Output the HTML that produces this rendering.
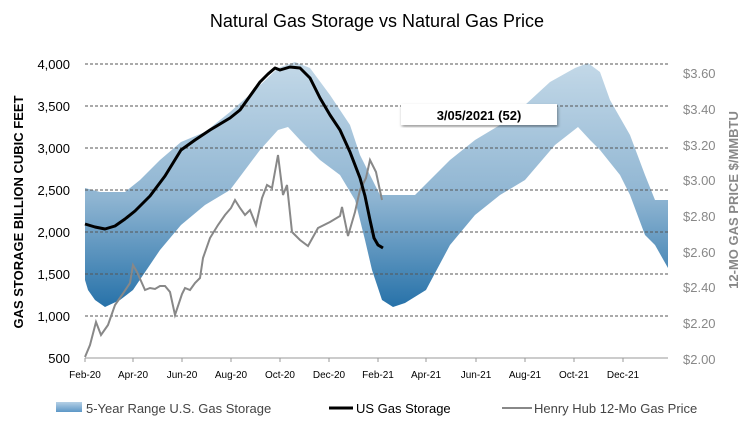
<!DOCTYPE html>
<html><head><meta charset="utf-8"><style>
body{margin:0;background:#fff;}
svg{display:block;font-family:"Liberation Sans",sans-serif;}
</style></head><body>
<svg width="755" height="422" viewBox="0 0 755 422">
<defs>
<linearGradient id="g" gradientUnits="userSpaceOnUse" x1="0" y1="60" x2="0" y2="310">
<stop offset="0" stop-color="#c4d9e8"/><stop offset="0.55" stop-color="#8fb5d2"/><stop offset="1" stop-color="#2470a8"/>
</linearGradient>
<linearGradient id="lg" x1="0" y1="0" x2="0" y2="1">
<stop offset="0" stop-color="#b5d0e6"/><stop offset="1" stop-color="#5d97c6"/>
</linearGradient>
<filter id="sh"><feDropShadow dx="1" dy="2" stdDeviation="1.5" flood-opacity="0.4"/></filter>
</defs>
<text x="377" y="27" text-anchor="middle" font-size="18" fill="#000">Natural Gas Storage vs Natural Gas Price</text>
<path d="M85,188 L100,192 L125,192 L140,180 L160,160 L181,142 L205,132 L230,112 L255,90 L278,68 L295,62 L310,68 L330,95 L350,125 L360,155 L370,175 L380,195 L415,195 L430,180 L450,160 L475,140 L500,125 L525,105 L550,82 L575,68 L588,63 L600,72 L610,100 L630,135 L645,175 L655,200 L668,200 L668,268 L655,245 L645,235 L630,195 L620,175 L600,150 L590,140 L578,127 L555,145 L525,180 L500,195 L475,215 L450,245 L426,290 L405,303 L393,307 L382,300 L372,270 L365,240 L355,200 L340,175 L320,160 L300,140 L288,127 L278,130 L260,150 L230,190 L205,205 L181,225 L160,250 L133,290 L120,300 L105,307 L95,300 L88,290 L85,280 Z" fill="url(#g)"/>
<g stroke="#555" stroke-width="1" stroke-dasharray="3,2">
<line x1="85" y1="64" x2="668" y2="64"/><line x1="85" y1="106" x2="668" y2="106"/><line x1="85" y1="148" x2="668" y2="148"/><line x1="85" y1="190" x2="668" y2="190"/><line x1="85" y1="232" x2="668" y2="232"/><line x1="85" y1="274" x2="668" y2="274"/><line x1="85" y1="316" x2="668" y2="316"/>
</g>
<line x1="85" y1="358" x2="668" y2="358" stroke="#999"/>
<line x1="85" y1="358" x2="85" y2="362" stroke="#999"/>
<g stroke="#999"><line x1="133" y1="358" x2="133" y2="362"/><line x1="182" y1="358" x2="182" y2="362"/><line x1="231" y1="358" x2="231" y2="362"/><line x1="280" y1="358" x2="280" y2="362"/><line x1="329" y1="358" x2="329" y2="362"/><line x1="378" y1="358" x2="378" y2="362"/><line x1="426" y1="358" x2="426" y2="362"/><line x1="476" y1="358" x2="476" y2="362"/><line x1="525" y1="358" x2="525" y2="362"/><line x1="574" y1="358" x2="574" y2="362"/><line x1="623" y1="358" x2="623" y2="362"/></g>
<polyline fill="none" stroke="#888" stroke-width="2" points="85,357 90,345 96,322 101,335 108,325 115,305 122,295 130,283 133,265 137,272 145,290 150,288 155,289 160,286 165,286 170,292 175,315 182,294 185,288 190,290 195,283 200,278 203,258 210,238 218,225 225,215 231,208 235,200 240,208 245,215 250,210 256,225 262,198 267,185 272,188 278,155 283,195 287,185 292,232 300,240 308,246 318,228 330,222 340,216 342,207 348,236 355,212 360,190 366,178 370,160 376,172 382,200"/>
<polyline fill="none" stroke="#000" stroke-width="3" stroke-linejoin="round" points="85,224 95,227 105,229 115,226 125,219 135,211 150,196 165,176 181,150 195,140 210,130 220,124 230,118 240,110 250,96 260,82 268,74 275,68 280,70 290,67 300,68 310,78 320,98 330,115 340,130 350,152 360,178 365,196 370,220 374,238 378,245 383,248"/>
<rect x="401" y="104" width="156" height="21" fill="#fff" filter="url(#sh)"/>
<text x="479" y="120" text-anchor="middle" font-size="13" font-weight="bold" fill="#000">3/05/2021  (52)</text>
<g font-size="13" fill="#000" text-anchor="end">
<text x="70" y="69">4,000</text><text x="70" y="111">3,500</text><text x="70" y="153">3,000</text><text x="70" y="195">2,500</text><text x="70" y="237">2,000</text><text x="70" y="279">1,500</text><text x="70" y="321">1,000</text><text x="70" y="363">500</text>
</g>
<g font-size="13" fill="#888">
<text x="683" y="78">$3.60</text><text x="683" y="114">$3.40</text><text x="683" y="150">$3.20</text><text x="683" y="185">$3.00</text><text x="683" y="221">$2.80</text><text x="683" y="257">$2.60</text><text x="683" y="292">$2.40</text><text x="683" y="328">$2.20</text><text x="683" y="364">$2.00</text>
</g>
<g font-size="10" fill="#000" text-anchor="middle">
<text x="85" y="378">Feb-20</text><text x="133" y="378">Apr-20</text><text x="182" y="378">Jun-20</text><text x="231" y="378">Aug-20</text><text x="280" y="378">Oct-20</text><text x="329" y="378">Dec-20</text><text x="378" y="378">Feb-21</text><text x="426" y="378">Apr-21</text><text x="476" y="378">Jun-21</text><text x="525" y="378">Aug-21</text><text x="574" y="378">Oct-21</text><text x="623" y="378">Dec-21</text>
</g>
<text transform="translate(23,212) rotate(-90)" text-anchor="middle" font-size="13" font-weight="bold" fill="#000">GAS STORAGE BILLION CUBIC FEET</text>
<text transform="translate(738,200) rotate(-90)" text-anchor="middle" font-size="13" font-weight="bold" fill="#888">12-MO GAS PRICE $/MMBTU</text>
<rect x="56" y="402" width="26" height="10" fill="url(#lg)"/>
<text x="86" y="413" font-size="13" fill="#444">5-Year Range U.S. Gas Storage</text>
<line x1="329" y1="408" x2="353" y2="408" stroke="#000" stroke-width="3"/>
<text x="356" y="413" font-size="13" fill="#000">US Gas Storage</text>
<line x1="502" y1="408" x2="532" y2="408" stroke="#888" stroke-width="2"/>
<text x="534" y="413" font-size="13" fill="#444">Henry Hub 12-Mo Gas Price</text>
</svg>
</body></html>
